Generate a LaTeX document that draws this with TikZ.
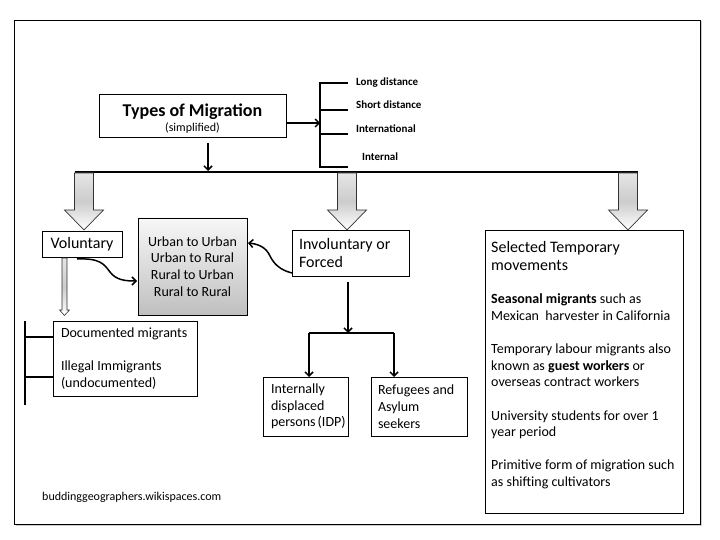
\documentclass[tikz,border=0pt]{standalone}
\usepackage{fontspec}
\setmainfont{Carlito}
\usetikzlibrary{arrows.meta,shadows,calc}
\begin{document}
\begin{tikzpicture}[x=1pt,y=-1pt,
  box/.style={draw=black, line width=0.8pt, fill=white, inner sep=0pt, outer sep=0pt,
    drop shadow={shadow xshift=1pt,shadow yshift=-1.2pt,opacity=0.3}},
  body/.style={font=\fontsize{14}{16.7}\selectfont},
  big/.style={font=\fontsize{16}{18.5}\selectfont},
  conn/.style={line width=1.5pt, -{Straight Barb[length=4pt,width=8pt]}},
  hollow/.style={draw=black!80, line width=0.7pt, top color=gray!20, bottom color=white, middle color=gray!40},
  lbl/.style={font=\fontsize{11}{13}\selectfont\bfseries, anchor=west, inner sep=0pt},
  harrow/.pic={\draw[hollow] (-9.5,0) -- (-9.5,37) -- (-19.5,37) -- (0,57) -- (19.5,37) -- (9.5,37) -- (9.5,0) -- cycle;},
  tarrow/.pic={\draw[hollow, line width=0.6pt] (-2.5,0) -- (-2.5,52) -- (-5,52) -- (0,57.5) -- (5,52) -- (2.5,52) -- (2.5,0) -- cycle;}
]
\useasboundingbox (0,0) rectangle (720,540);
% outer frame
\node[box, minimum width=686, minimum height=504,
  drop shadow={shadow xshift=1.5pt,shadow yshift=-1.5pt,opacity=0.4}] (frame) at (357,272) {};

% title
\node[box, minimum width=187, minimum height=43, align=center] (title) at (192.5,115.5)
  {\fontsize{18}{20}\selectfont\bfseries\rule{0pt}{18.5pt}Types of Migration\\[3pt]\fontsize{12}{14}\selectfont\mdseries (simplified)};

% bracket with categories
\coordinate (brkT) at (320,83);
\coordinate (brk) at (320,123);
\coordinate (brkB) at (320,167);
\draw[line width=2pt] ($(brkT)+(28,0)$) -- (brkT) -- (brkB) -- ($(brkB)+(28,0)$);
\draw[line width=2pt] (320,110) -- (348,110);
\draw[line width=2pt] (320,134) -- (348,134);
\node[lbl] (ld) at (356,83) {Long distance};
\node[lbl] (sd) at (356,105) {Short distance};
\node[lbl] (intl) at (356,129) {International};
\node[lbl] (intn) at (362,157) {Internal};
\draw[conn, line width=1.3pt] (title.east |- brk) -- (brk);

% main bar
\coordinate (bar) at (208,171);
\coordinate (barL) at (74.5,172);
\coordinate (barR) at (637.5,172);
\draw[conn] ($(title.south -| bar)+(0,6)$) -- (bar);
\draw[line width=2.5pt] (barL) -- (barR);

% hollow arrows
\pic at (84,173) {harrow};
\pic at (347,173) {harrow};
\pic at (628,173) {harrow};

% boxes
\node[box, minimum width=80, minimum height=26, big] (vol) at (82,244) {Voluntary};
\node[box, minimum width=109, minimum height=97, top color=gray!6, bottom color=gray!50, align=center, body] (urb) at (192.5,266.5)
  {Urban to Urban\\Urban to Rural\\Rural to Urban\\Rural to Rural};
\node[box, minimum width=117, minimum height=46, text width=103, inner xsep=7, align=flush left, big] (inv) at (350.5,253)
  {Involuntary or\\Forced};
\node[box, minimum width=144, minimum height=75, text width=128, inner xsep=8, align=flush left, body] (doc) at (125,358.5)
  {Documented~migrants\\[16.5pt]Illegal Immigrants\\(undocumented)};
\node[box, minimum width=85, minimum height=59, text width=69, inner xsep=8, align=flush left, body] (idp) at (305.5,406.5)
  {Internally\\displaced\\persons~(IDP)};
\node[box, minimum width=96, minimum height=59, text width=82, inner xsep=7, align=flush left, body] (ref) at (419,406.5)
  {Refugees and\\Asylum\\seekers};
\node[box, minimum width=198, minimum height=283] (tmp) at (584,371.5) {};
\node[anchor=north west, inner sep=0pt, text width=192, align=flush left, body] (tmptxt) at ($(tmp.north west)+(6,11)$)
  {{\fontsize{16}{18}\selectfont Selected Temporary\\movements\par}\vspace{16.5pt}
   \textbf{Seasonal migrants} such as\\Mexican~ harvester in California\par\vspace{16.5pt}
   Temporary labour migrants also\\known as \textbf{guest workers} or\\overseas contract workers\par\vspace{16.5pt}
   University students for over 1\\year period\par\vspace{16.5pt}
   Primitive form of migration such\\as shifting cultivators};

% voluntary sub-structure
\pic at ($(vol.south)+(-17.5,1)$) {tarrow};
\coordinate (dbT) at (25,321);
\coordinate (dbB) at (25,405);
\draw[line width=2pt] (dbT) -- (dbB);
\draw[line width=2pt] (dbT |- 0,337) -- ($(doc.north west)+(0,16)$);
\draw[line width=2pt] (dbT |- 0,377) -- ($(doc.north west)+(0,56)$);

% curved connectors to urban box
\draw[conn] ($(vol.south west)+(35,2)$) .. controls (100,258) and (104,264) .. (110,272)
  .. controls (116,280) and (125,281) .. ($(urb.west)+(-1,14.5)$);
\draw[conn] ($(inv.south west)+(0,-3)$) .. controls (280,270) and (274,264) .. (270,256)
  .. controls (266,247) and (258,244) .. ($(urb.east)+(1,-23.5)$);

% involuntary fork
\coordinate (fork) at (348,333);
\coordinate (forkL) at (309,333);
\coordinate (forkR) at (394,333);
\draw[conn] ($(inv.south)+(-2.5,6)$) -- (fork);
\draw[line width=2pt] (forkL) -- (forkR);
\draw[conn] (forkL) -- (idp.north -| forkL);
\draw[conn] (forkR) -- (ref.north -| forkR);

% source
\node[anchor=west, inner sep=0pt, font=\fontsize{12}{14}\selectfont] (web) at (42,497) {buddinggeographers.wikispaces.com};
\end{tikzpicture}
\end{document}
